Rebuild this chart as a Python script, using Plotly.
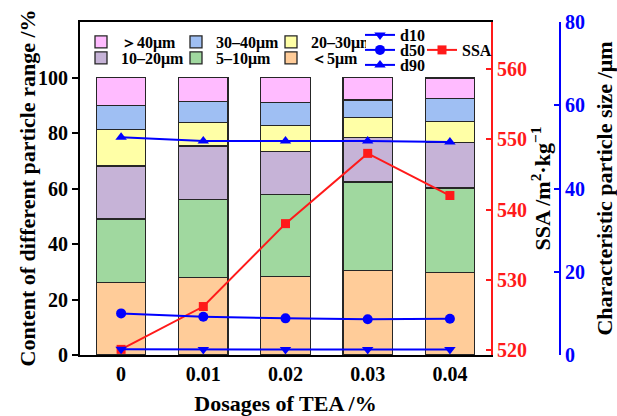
import plotly.graph_objects as go

# ---------------- data ----------------
dosages = ["0", "0.01", "0.02", "0.03", "0.04"]
lt5 = [26.1, 28.0, 28.2, 30.5, 29.8]
r5_10 = [22.9, 28.0, 29.6, 31.8, 30.4]
r10_20 = [19.1, 19.3, 15.5, 16.1, 16.3]
r20_30 = [13.2, 8.4, 9.5, 7.1, 7.6]
r30_40 = [8.7, 7.6, 8.2, 6.4, 8.3]
gt40 = [10.0, 8.7, 9.0, 8.1, 7.4]
ssa = [520.1, 526.2, 538.0, 548.0, 542.0]
d10 = [1.4, 1.3, 1.3, 1.3, 1.3]
d50 = [10.0, 9.2, 8.8, 8.6, 8.7]
d90 = [52.3, 51.4, 51.4, 51.4, 51.2]
left_ticks = [0, 20, 40, 60, 80, 100]
ssa_ticks = [520, 530, 540, 550, 560]
size_ticks = [0, 20, 40, 60, 80]

# ---------------- layout helpers ----------------
W, H = 617, 416
ML, MR, MT, MB = 80, 40, 22, 61
PW = W - ML - MR
PH = H - MT - MB
PLOT_RIGHT = 491
BLUE_X = 560


def px(x):
    return (x - ML) / PW


def py(y):
    return (H - MB - y) / PH


FONT = "Liberation Serif, Times New Roman, serif"
BLUE = "#0000FF"
RED = "#FF1A1A"
EDGE = "#262626"
TICK_SIZE = 20
TITLE_SIZE = 22

fig = go.Figure()

bar_specs = [
    (lt5, "＜5μm", "#FFCC99", "legend2"),
    (r5_10, "5–10μm", "#A0D89F", "legend2"),
    (r10_20, "10–20μm", "#C6B3D7", "legend2"),
    (r20_30, "20–30μm", "#FFFFA6", "legend"),
    (r30_40, "30–40μm", "#9FBFF3", "legend"),
    (gt40, "＞40μm", "#FFBBFF", "legend"),
]
for vals, name, color, lg in bar_specs:
    fig.add_trace(go.Bar(
        x=dosages, y=vals, name=name, legend=lg, width=0.6,
        marker=dict(color=color, line=dict(color=EDGE, width=1.3)),
    ))

line_specs = [
    (d10, "d10", "triangle-down", "legend3"),
    (d50, "d50", "circle", "legend4"),
    (d90, "d90", "triangle-up", "legend5"),
]
for vals, name, sym, lg in line_specs:
    fig.add_trace(go.Scatter(
        x=dosages, y=vals, name=name, yaxis="y3", legend=lg,
        mode="lines+markers",
        line=dict(color=BLUE, width=2),
        marker=dict(symbol=sym, size=10, color=BLUE),
    ))

fig.add_trace(go.Scatter(
    x=dosages, y=ssa, name="SSA", yaxis="y2", legend="legend6",
    mode="lines+markers",
    line=dict(color=RED, width=2),
    marker=dict(symbol="square", size=9, color=RED),
))

font_b = dict(family=FONT, size=18, color="black", weight="bold")
leg_font = dict(family=FONT, size=16, color="black", weight="bold")


def legend_cfg(x, y, horizontal=True):
    d = dict(x=px(x), y=py(y), xanchor="left", yanchor="middle",
             bgcolor="rgba(0,0,0,0)", borderwidth=0, font=leg_font,
             traceorder="reversed")
    if horizontal:
        d.update(orientation="h", entrywidth=50, entrywidthmode="pixels")
    return d


def tfont(color="black", size=TICK_SIZE):
    return dict(family=FONT, size=size, color=color, weight="bold")


fig.update_layout(
    width=W, height=H,
    margin=dict(l=ML, r=MR, t=MT, b=MB),
    paper_bgcolor="white", plot_bgcolor="white",
    barmode="stack",
    font=font_b,
    legend=legend_cfg(81, 42),
    legend2=legend_cfg(81, 58),
    legend3=legend_cfg(360, 35, False),
    legend4=legend_cfg(360, 50, False),
    legend5=legend_cfg(360, 65, False),
    legend6=legend_cfg(422, 50, False),
    xaxis=dict(
        type="category", domain=[0, px(PLOT_RIGHT)],
        showline=True, linecolor="black", linewidth=2, mirror=True,
        ticks="", showgrid=False, zeroline=False,
        tickfont=tfont(),
        title=dict(text="Dosages of TEA /%", standoff=15,
                   font=tfont(size=TITLE_SIZE)),
        automargin=False,
    ),
    yaxis=dict(
        range=[0, 120], tickvals=left_ticks,
        showline=True, linecolor="black", linewidth=2,
        ticks="outside", ticklen=6, tickwidth=2, tickcolor="black",
        showgrid=False, zeroline=False,
        tickfont=tfont(),
        automargin=False,
    ),
    yaxis2=dict(
        overlaying="y", side="right", anchor="x",
        range=[519.3, 566.7], tickvals=ssa_ticks,
        showline=True, linecolor=RED, linewidth=2,
        ticks="inside", ticklen=5, tickwidth=2, tickcolor=RED,
        showgrid=False, zeroline=False,
        tickfont=tfont(RED),
        title=dict(text="SSA /m<sup>2</sup>·kg<sup>−1</sup>", standoff=0,
                   font=tfont(size=TITLE_SIZE)),
        automargin=False,
    ),
    yaxis3=dict(
        overlaying="y", side="right", anchor="free", position=px(BLUE_X),
        range=[0, 80], tickvals=size_ticks,
        showline=True, linecolor=BLUE, linewidth=2,
        ticks="inside", ticklen=5, tickwidth=2, tickcolor=BLUE,
        showgrid=False, zeroline=False,
        tickfont=tfont(BLUE),
        title=dict(text="Characteristic particle size /μm", standoff=13,
                   font=tfont(size=TITLE_SIZE)),
        automargin=False,
    ),
    annotations=[dict(
        text="Content of different particle range /%",
        xref="paper", yref="paper", x=px(27), y=0.5,
        xanchor="center", yanchor="middle", textangle=-90,
        showarrow=False, font=tfont(size=TITLE_SIZE),
    )],
)

fig.write_html("out.html")
